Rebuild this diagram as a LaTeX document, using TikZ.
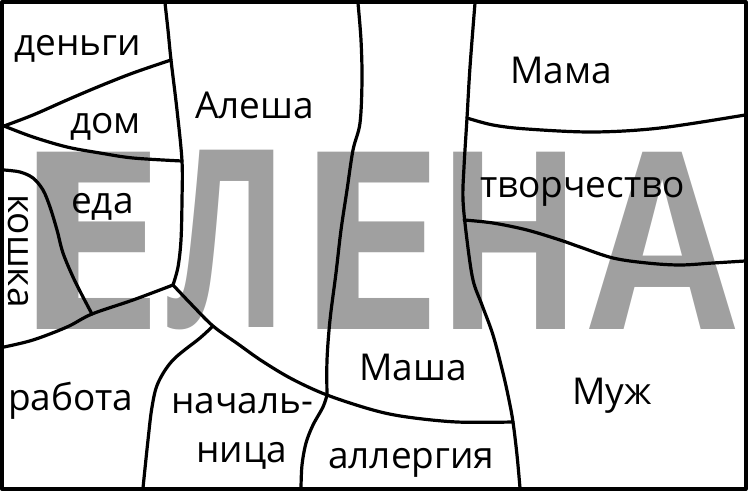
\documentclass[tikz,border=0pt]{standalone}
\usepackage{fontspec}
\setmainfont{Open Sans}
\definecolor{biggray}{RGB}{160,160,160}
\begin{document}
\begin{tikzpicture}[x=1pt,y=-1pt,line join=round,line cap=round,
  frame/.style={line width=4pt},
  edge/.style={line width=3.2pt},
  lbl/.style={font=\fontsize{37}{40}\selectfont,inner sep=0pt,anchor=base west},
  big/.style={text=biggray,inner sep=0pt,anchor=south},
  sm/.style={smooth,tension=0.55}]
\useasboundingbox (0,0) rectangle (748,491);
% big letters
\node[big] (L1) at (90,330) {\resizebox{154pt}{177pt}{\bfseries Е}};
\node[big] (L2) at (228,330) {\resizebox{122pt}{177pt}{\bfseries Л}};
\node[big] (L3) at (370,330) {\resizebox{152pt}{177pt}{\bfseries Е}};
\node[big] (L4) at (510,330) {\resizebox{146pt}{177pt}{\bfseries Н}};
\node[big] (L5) at (663,330) {\resizebox{146pt}{177pt}{\bfseries А}};
% junctions
\coordinate (A1) at (165,3);
\coordinate (J1) at (4,126);
\coordinate (J2) at (171,60);
\coordinate (J3) at (182,161);
\coordinate (J4) at (173,285);
\coordinate (K1) at (4,170);
\coordinate (K2) at (92,314);
\coordinate (W1) at (4,347);
\coordinate (N1) at (213,326);
\coordinate (J5) at (327,395);
\coordinate (J6) at (513,422);
\coordinate (C1) at (358,3);
\coordinate (B1) at (143,488);
\coordinate (B2) at (301,488);
\coordinate (R1) at (475,3);
\coordinate (B3) at (520,488);
\coordinate (M1) at (467,118);
\coordinate (M2) at (745,115);
\coordinate (T1) at (464,220);
\coordinate (T2) at (745,261);
% lines
\draw[edge] plot[sm] coordinates {(A1) (168,30) (J2) (177,110) (J3) (182,200) (181,240) (178,267) (J4)};
\draw[edge] plot[sm] coordinates {(J1) (33,115) (67,100) (100,86) (133,73) (J2)};
\draw[edge] plot[sm] coordinates {(J1) (33,137) (67,147) (100,153) (133,158) (J3)};
\draw[edge] plot[sm] coordinates {(K1) (20,172) (33,178) (43,190) (50,207) (57,230) (63,253) (73,277) (83,297) (K2)};
\draw[edge] plot[sm] coordinates {(W1) (33,340) (67,327) (K2) (133,300) (J4)};
\draw[edge] plot[sm] coordinates {(J4) (192,305) (N1) (238,344) (262,361) (292,379) (J5) (373,410) (407,417) (457,422) (J6)};
\draw[edge] plot[sm] coordinates {(N1) (200,338) (173,360) (158,383) (152,407) (148,440) (B1)};
\draw[edge] plot[sm] coordinates {(C1) (361,40) (362,80) (360,123) (353,150) (347,190) (341,230) (336,273) (330,320) (327,360) (J5)};
\draw[edge] plot[sm] coordinates {(J5) (323,407) (313,425) (306,443) (302,465) (B2)};
\draw[edge] plot[sm] coordinates {(R1) (470,67) (M1) (464,167) (463,200) (467,240) (473,280) (482,305) (493,335) (503,373) (509,400) (J6) (517,455) (B3)};
\draw[edge] plot[sm] coordinates {(M1) (493,125) (527,129) (593,132) (660,128) (M2)};
\draw[edge] plot[sm] coordinates {(T1) (493,223) (527,230) (560,240) (580,247) (613,258) (647,263) (680,265) (713,263) (T2)};
\draw[frame] (2,2) rectangle (745.5,489);
% labels
\node[lbl] (t1) at (14,55) {деньги};
\node[lbl] (t2) at (70,133) {дом};
\node[lbl] (t3) at (195,118) {Алеша};
\node[lbl] (t4) at (71,213) {еда};
\node[lbl,rotate=-90] (t5) at (9,194) {кошка};
\node[lbl] (t6) at (8,410) {работа};
\node[lbl] (t7) at (171,413) {началь-};
\node[lbl] (t8) at (196,462) {ница};
\node[lbl] (t9) at (328,468) {аллергия};
\node[lbl] (t10) at (359,380) {Маша};
\node[lbl] (t11) at (510,83) {Мама};
\node[lbl] (t12) at (480,197) {творчество};
\node[lbl] (t13) at (572,404) {Муж};
\end{tikzpicture}
\end{document}
